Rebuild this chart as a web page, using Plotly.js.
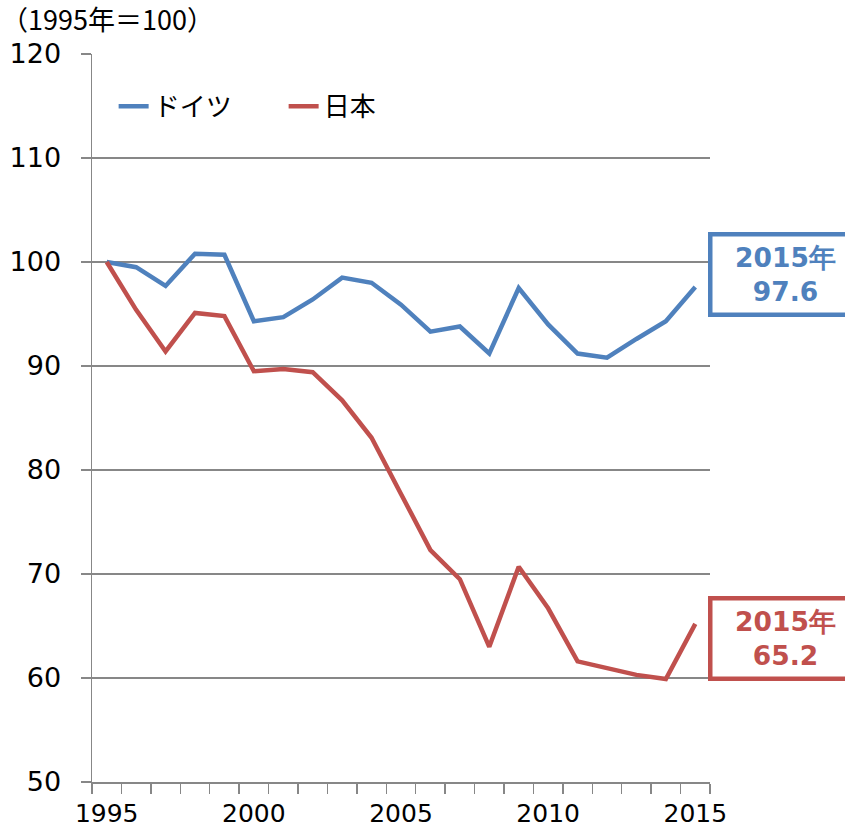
<!DOCTYPE html>
<html><head><meta charset="utf-8">
<script src="https://cdn.plot.ly/plotly-3.0.1.min.js"></script>
<style>body{margin:0;background:#fff}#chart{width:845px;height:834px}</style>
</head><body><div id="chart"></div>
<script>
const years = [1995,1996,1997,1998,1999,2000,2001,2002,2003,2004,2005,2006,2007,2008,2009,2010,2011,2012,2013,2014,2015];
const germany = [100,99.5,97.7,100.8,100.7,94.3,94.7,96.4,98.5,98.0,95.9,93.3,93.8,91.2,97.5,94.0,91.2,90.8,92.6,94.3,97.6];
const japan = [100,95.4,91.4,95.1,94.8,89.5,89.7,89.4,86.7,83.1,77.7,72.3,69.5,63.0,70.7,66.7,61.6,60.9,60.3,59.9,65.2];
const seriesNames = ['ドイツ','日本'];
const xTickVals = [1995,2000,2005,2010,2015];
const yTickVals = [50,60,70,80,90,100,110,120];
const unitLabel = '（1995年＝100）';

const blue = '#4F81BD', red = '#C0504D', grid = '#878787';

const traces = [
  {x:years, y:germany, name:seriesNames[0], type:'scatter', mode:'lines', line:{color:blue, width:4.5}},
  {x:years, y:japan, name:seriesNames[1], type:'scatter', mode:'lines', line:{color:red, width:4.5}}
];
const lastG = germany[germany.length-1], lastJ = japan[japan.length-1];
const boxFont = {family:'"DejaVu Sans",sans-serif', size:26.5};
const layout = {
  width:845, height:834,
  margin:{l:92, r:135, t:54, b:52},
  paper_bgcolor:'#fff', plot_bgcolor:'#fff',
  showlegend:true,
  legend:{orientation:'h', x:0.035, y:0.928, xanchor:'left', yanchor:'middle',
    font:{family:'"Noto Sans CJK JP",sans-serif', size:26, color:'#000'}, entrywidth:125, bgcolor:'rgba(0,0,0,0)'},
  xaxis:{range:[1994.5,2015.5], tickvals:xTickVals, ticktext:xTickVals.map(String), ticks:'', showgrid:false,
    showline:true, linecolor:grid, linewidth:1.5, zeroline:false,
    tickfont:{family:'"DejaVu Sans",sans-serif', size:25, color:'#000'}, ticklabelstandoff:8,
    minor:{tick0:1994.5, dtick:1, ticks:'outside', ticklen:10, tickcolor:grid, tickwidth:1.5, showgrid:false}},
  yaxis:{range:[50,120], tickvals:yTickVals, ticks:'outside', ticklen:10, tickcolor:grid, tickwidth:1.5,
    showgrid:true, gridcolor:grid, gridwidth:1.5, showline:true, linecolor:grid, linewidth:1.5, zeroline:false,
    tickfont:{family:'"DejaVu Sans",sans-serif', size:27, color:'#000'}, ticklabelstandoff:14},
  annotations:[
    {xref:'paper', yref:'paper', x:-0.15, y:1.078, xanchor:'left', yanchor:'top', showarrow:false,
     text:unitLabel, font:{family:'"Noto Sans CJK JP",sans-serif', size:27, color:'#000'}},
    {xref:'paper', yref:'y', x:0.997, y:98.8, xanchor:'left', yanchor:'middle', showarrow:false,
     text:'<b>'+years[years.length-1]+'年<br>'+lastG.toFixed(1)+'</b>', align:'center',
     font:Object.assign({color:blue}, boxFont),
     bordercolor:blue, borderwidth:4.5, borderpad:3, bgcolor:'#fff', width:140, height:70},
    {xref:'paper', yref:'y', x:0.997, y:63.8, xanchor:'left', yanchor:'middle', showarrow:false,
     text:'<b>'+years[years.length-1]+'年<br>'+lastJ.toFixed(1)+'</b>', align:'center',
     font:Object.assign({color:red}, boxFont),
     bordercolor:red, borderwidth:4.5, borderpad:3, bgcolor:'#fff', width:140, height:70}
  ]
};
Plotly.newPlot('chart', traces, layout, {displayModeBar:false, staticPlot:true});
</script></body></html>
